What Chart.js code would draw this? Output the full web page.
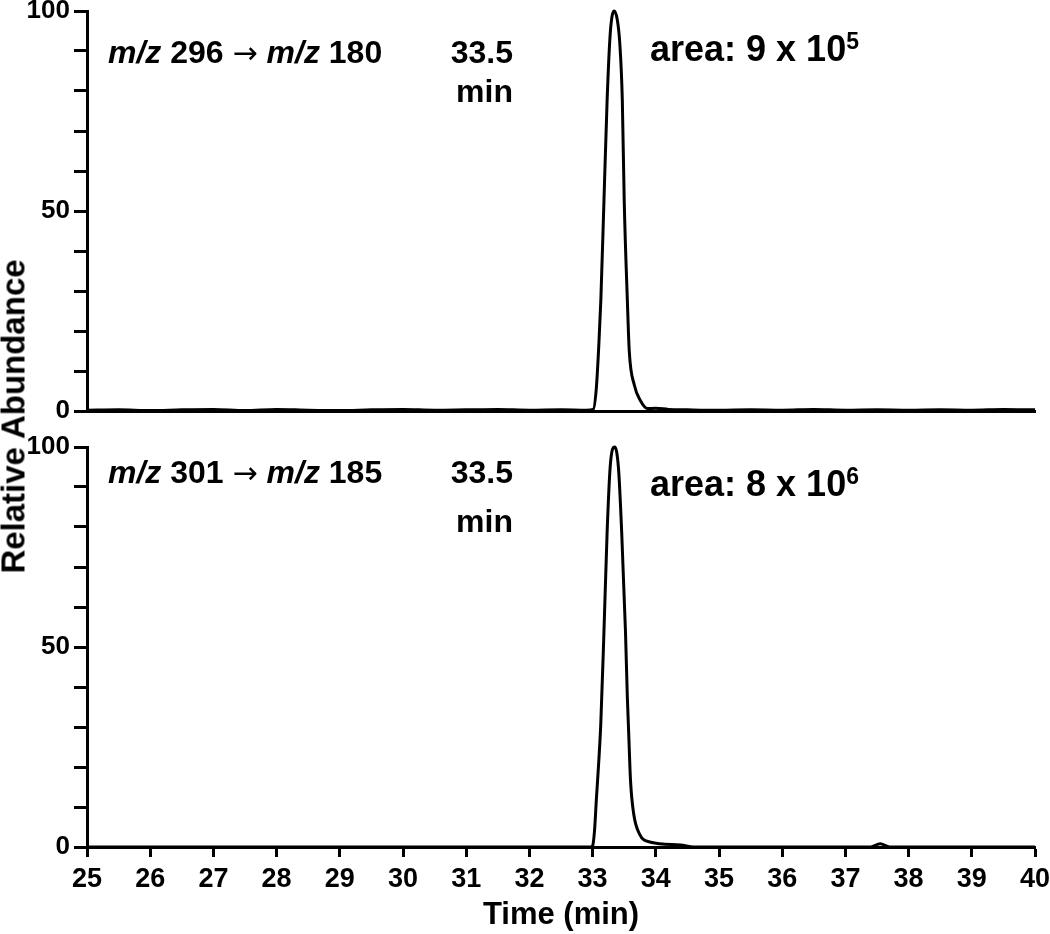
<!DOCTYPE html>
<html>
<head>
<meta charset="utf-8">
<script src="https://cdn.jsdelivr.net/npm/chart.js@4/dist/chart.umd.min.js"></script>
<style>
  body { margin: 0; background: #fff; }
  #wrap { position: relative; width: 1050px; height: 934px; font-family: 'Liberation Sans', Arial, sans-serif; font-weight: bold; color: #000; }
  canvas { position: absolute; left: 0; }
  .t { position: absolute; line-height: 1; white-space: nowrap; }
  .arr { font-weight: normal; font-family: 'DejaVu Sans', sans-serif; font-size: 30px; }
  .sup { position: relative; top: -12px; font-size: 23px; }
  #ylab { position: absolute; left: -187px; top: 400px; width: 400px; height: 33px; line-height: 33px; font-size: 33px; text-align: center; transform: rotate(-90deg); }
</style>
</head>
<body>
<div id="wrap">
  <canvas id="cTop" style="top:0"></canvas>
  <canvas id="cBot" style="top:430px"></canvas>

  <div class="t" style="left:108px; top:36px; font-size:32px"><i>m/z</i> 296 <span class="arr">→</span> <i>m/z</i> 180</div>
  <div class="t" style="right:537px; top:36px; font-size:32px; text-align:right">33.5</div>
  <div class="t" style="right:537px; top:75px; font-size:32px; text-align:right">min</div>
  <div class="t" style="left:650px; top:31px; font-size:36px">area: 9 x 10<span class="sup">5</span></div>

  <div class="t" style="left:108px; top:456px; font-size:32px"><i>m/z</i> 301 <span class="arr">→</span> <i>m/z</i> 185</div>
  <div class="t" style="right:537px; top:456px; font-size:32px; text-align:right">33.5</div>
  <div class="t" style="right:537px; top:505px; font-size:32px; text-align:right">min</div>
  <div class="t" style="left:650px; top:466px; font-size:36px">area: 8 x 10<span class="sup">6</span></div>

  <div id="ylab">Relative Abundance</div>
</div>
<script>
'use strict';
// ── Données ────────────────────────────────────────────────────────────────
const xTicks = [25, 26, 27, 28, 29, 30, 31, 32, 33, 34, 35, 36, 37, 38, 39, 40];
const yLabelled = [0, 50, 100];

// m/z 296 -> m/z 180
const topTime = [25.0, 25.5, 26.0, 26.5, 27.0, 27.5, 28.0, 28.5, 29.0, 29.5, 30.0, 30.5, 31.0, 31.5, 32.0, 32.5, 32.9,
  33.01, 33.06, 33.10, 33.13, 33.18, 33.23, 33.28, 33.34, 33.39, 33.43, 33.47, 33.50, 33.55, 33.58, 33.66, 33.76, 33.87,
  34.0, 34.2, 34.5, 35.0, 35.5, 36.0, 36.5, 37.0, 37.5, 38.0, 38.5, 39.0, 39.5, 40.0];
const topVal = [0.2, 0.3, 0.1, 0.3, 0.4, 0.1, 0.4, 0.2, 0.1, 0.3, 0.4, 0.2, 0.3, 0.4, 0.2, 0.3, 0.2,
  0.4, 5.9, 17, 27.6, 52.7, 77.8, 94.6, 100, 97.9, 92, 77.8, 52.7, 27.6, 15, 6.5, 2.5, 0.6,
  0.7, 0.4, 0.3, 0.2, 0.3, 0.2, 0.4, 0.2, 0.3, 0.2, 0.3, 0.2, 0.4, 0.3];

// m/z 301 -> m/z 185
const botTime = [25.0, 28.0, 31.0, 32.97, 33.0, 33.03, 33.06, 33.10, 33.13, 33.18, 33.23, 33.28, 33.35, 33.41, 33.46,
  33.52, 33.55, 33.57, 33.60, 33.65, 33.74, 33.92, 34.39, 34.6, 37.4, 37.55, 37.7, 40.0];
const botVal = [0, 0, 0, 0, 0.3, 4, 12, 22, 31, 54, 78.8, 95.4, 100, 94.6, 78.8,
  54, 37.3, 29, 16.6, 8.3, 3.3, 1.2, 0.5, 0, 0, 0.8, 0, 0];

// ── Construction ───────────────────────────────────────────────────────────
Chart.defaults.font.family = "'Liberation Sans', Arial, sans-serif";
Chart.defaults.font.weight = 'bold';
Chart.defaults.color = '#000';

const W = 1050;
const pts = (xs, ys) => xs.map((x, i) => ({ x, y: ys[i] }));
const noPad = s => { s.paddingTop = 0; s.paddingBottom = 0; s.paddingLeft = 0; s.paddingRight = 0; };

function yScale() {
  return {
    min: 0, max: 100,
    afterFit: s => { s.width = 87; noPad(s); },
    border: { color: '#000', width: 3 },
    grid: { drawOnChartArea: false, drawTicks: true, tickLength: 13, tickWidth: 3, tickColor: '#000' },
    ticks: { stepSize: 10, padding: 4, font: { size: 26, weight: 'bold' },
      callback: v => yLabelled.includes(v) ? String(v) : '' },
  };
}

function lineDs(data) {
  return { data, borderColor: '#000', borderWidth: 3, pointRadius: 0, fill: false,
    cubicInterpolationMode: 'monotone', clip: false };
}

function makeChart(id, h, data, bottom) {
  const cv = document.getElementById(id);
  cv.width = W; cv.height = h;
  cv.style.width = W + 'px'; cv.style.height = h + 'px';
  const x = bottom ? {
    type: 'linear', min: 25, max: 40,
    afterFit: s => { s.height = 87; noPad(s); },
    afterBuildTicks: s => { s.ticks = xTicks.map(v => ({ value: v })); },
    border: { color: '#000', width: 3 },
    grid: { drawOnChartArea: false, drawTicks: true, tickLength: 10, tickWidth: 3, tickColor: '#000' },
    ticks: { padding: 6, font: { size: 27, weight: 'bold' }, maxRotation: 0 },
    title: { display: true, text: 'Time (min)', font: { size: 31, weight: 'bold' }, padding: { top: 0, bottom: 0 } },
  } : {
    type: 'linear', min: 25, max: 40,
    afterFit: s => { s.height = 0; noPad(s); },
    border: { color: '#000', width: 3 },
    grid: { drawOnChartArea: false, drawTicks: false },
    ticks: { display: false },
  };
  return new Chart(cv, {
    type: 'line',
    data: { datasets: [lineDs(data)] },
    options: {
      responsive: false, animation: false, events: [],
      layout: { padding: bottom ? { top: 17, right: 15, bottom: 0, left: 0 } : { top: 11, right: 15, bottom: 19, left: 0 } },
      plugins: { legend: { display: false }, tooltip: { enabled: false } },
      scales: { x, y: yScale() },
    },
  });
}

makeChart('cTop', 430, pts(topTime, topVal), false);
makeChart('cBot', 504, pts(botTime, botVal), true);
</script>
</body>
</html>
